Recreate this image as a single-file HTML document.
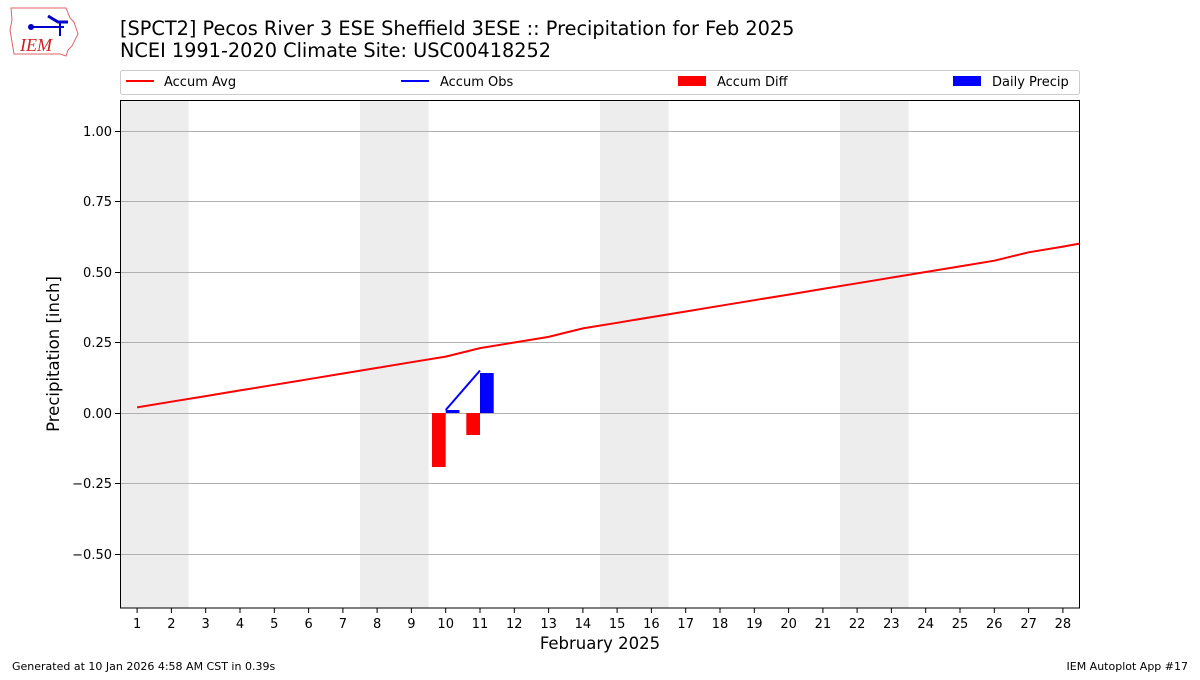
<!DOCTYPE html>
<html><head><meta charset="utf-8"><style>
body{margin:0;background:#fff;}
text{font-family:"DejaVu Sans","Liberation Sans",sans-serif;}
</style></head><body>
<svg width="1200" height="675" xmlns="http://www.w3.org/2000/svg">
<rect width="1200" height="675" fill="#fff"/>
<!-- logo -->
<g>
<path d="M11,8 L66,8 L70,18 L74,22 L78,34 L72,46 L68,50 L66,56 L60,54 L14,54 L12,42 L10,30 L12,20 Z" fill="#fff" stroke="#d66" stroke-width="1"/>
<line x1="30" y1="27" x2="64" y2="27" stroke="#00c" stroke-width="2"/>
<circle cx="31" cy="27" r="3" fill="#00c"/>
<path d="M48,16 L58,22 L68,22" stroke="#00c" stroke-width="3" fill="none"/>
<line x1="60" y1="22" x2="60" y2="36" stroke="#00c" stroke-width="2"/>
<text x="20" y="51" font-family="Liberation Serif,serif" font-style="italic" font-size="18" fill="#c22" style="font-family:'Liberation Serif',serif">IEM</text>
</g>
<text x="120" y="35" font-size="19.3">[SPCT2] Pecos River 3 ESE Sheffield 3ESE :: Precipitation for Feb 2025</text>
<text x="120" y="57" font-size="19.3">NCEI 1991-2020 Climate Site: USC00418252</text>
<!-- legend -->
<rect x="120.5" y="70.5" width="959" height="24" fill="#fff" stroke="#ccc" rx="2"/>
<line x1="126" y1="81" x2="154" y2="81" stroke="red" stroke-width="2"/>
<text x="164" y="86" font-size="13">Accum Avg</text>
<line x1="401" y1="81" x2="429" y2="81" stroke="blue" stroke-width="2"/>
<text x="440" y="86" font-size="13">Accum Obs</text>
<rect x="678" y="76" width="28" height="10" fill="red"/>
<text x="717" y="86" font-size="13">Accum Diff</text>
<rect x="953" y="76" width="28" height="10" fill="blue"/>
<text x="992" y="86" font-size="13">Daily Precip</text>
<!-- weekends -->
<g fill="#ededed">
<rect x="120" y="100" width="68.6" height="508"/>
<rect x="360" y="100" width="68.6" height="508"/>
<rect x="600" y="100" width="68.6" height="508"/>
<rect x="840" y="100" width="68.6" height="508"/>
</g>
<!-- grid -->
<g stroke="#b0b0b0" stroke-width="1">
<line x1="120" x2="1080" y1="131.5" y2="131.5"/>
<line x1="120" x2="1080" y1="201.5" y2="201.5"/>
<line x1="120" x2="1080" y1="272.5" y2="272.5"/>
<line x1="120" x2="1080" y1="342.5" y2="342.5"/>
<line x1="120" x2="1080" y1="413.5" y2="413.5"/>
<line x1="120" x2="1080" y1="483.5" y2="483.5"/>
<line x1="120" x2="1080" y1="554.5" y2="554.5"/>
</g>
<!-- bars -->
<rect x="432" y="413" width="13.7" height="54" fill="red"/>
<rect x="466.3" y="413" width="13.7" height="22" fill="red"/>
<rect x="445.7" y="410" width="13.7" height="3" fill="blue"/>
<rect x="480" y="373" width="13.7" height="40" fill="blue"/>
<polyline fill="none" stroke="red" stroke-width="2" points="137.1,407.4 171.4,401.7 205.7,396.1 240,390.4 274.3,384.8 308.6,379.2 342.9,373.5 377.1,367.9 411.4,362.2 445.7,356.6 480,348.1 514.3,342.5 548.6,336.9 582.9,328.4 617.1,322.8 651.4,317.1 685.7,311.5 720,305.8 754.3,300.2 788.6,294.6 822.9,288.9 857.1,283.3 891.4,277.6 925.7,272 960,266.4 994.3,260.7 1028.6,252.3 1062.9,246.6 1080,243.5"/>
<polyline fill="none" stroke="blue" stroke-width="2" points="445.7,410 480,370.5"/>
<rect x="120.5" y="100.5" width="959" height="507.5" fill="none" stroke="#000" stroke-width="1"/>
<!-- y ticks -->
<g font-size="13" text-anchor="end">
<g stroke="#000"><line x1="115" x2="120" y1="131.5" y2="131.5"/><line x1="115" x2="120" y1="201.5" y2="201.5"/><line x1="115" x2="120" y1="272.5" y2="272.5"/><line x1="115" x2="120" y1="342.5" y2="342.5"/><line x1="115" x2="120" y1="413.5" y2="413.5"/><line x1="115" x2="120" y1="483.5" y2="483.5"/><line x1="115" x2="120" y1="554.5" y2="554.5"/></g>
<text x="112" y="136">1.00</text><text x="112" y="206">0.75</text><text x="112" y="277">0.50</text><text x="112" y="347">0.25</text><text x="112" y="418">0.00</text><text x="112" y="488">−0.25</text><text x="112" y="559">−0.50</text>
</g>
<text transform="translate(59,354) rotate(-90)" font-size="16.5" text-anchor="middle">Precipitation [inch]</text>
<!-- x ticks -->
<g font-size="13" text-anchor="middle">
<g stroke="#000">
<line x1="137.1" x2="137.1" y1="608" y2="613"/><line x1="171.4" x2="171.4" y1="608" y2="613"/><line x1="205.7" x2="205.7" y1="608" y2="613"/><line x1="240" x2="240" y1="608" y2="613"/><line x1="274.3" x2="274.3" y1="608" y2="613"/><line x1="308.6" x2="308.6" y1="608" y2="613"/><line x1="342.9" x2="342.9" y1="608" y2="613"/><line x1="377.1" x2="377.1" y1="608" y2="613"/><line x1="411.4" x2="411.4" y1="608" y2="613"/><line x1="445.7" x2="445.7" y1="608" y2="613"/><line x1="480" x2="480" y1="608" y2="613"/><line x1="514.3" x2="514.3" y1="608" y2="613"/><line x1="548.6" x2="548.6" y1="608" y2="613"/><line x1="582.9" x2="582.9" y1="608" y2="613"/><line x1="617.1" x2="617.1" y1="608" y2="613"/><line x1="651.4" x2="651.4" y1="608" y2="613"/><line x1="685.7" x2="685.7" y1="608" y2="613"/><line x1="720" x2="720" y1="608" y2="613"/><line x1="754.3" x2="754.3" y1="608" y2="613"/><line x1="788.6" x2="788.6" y1="608" y2="613"/><line x1="822.9" x2="822.9" y1="608" y2="613"/><line x1="857.1" x2="857.1" y1="608" y2="613"/><line x1="891.4" x2="891.4" y1="608" y2="613"/><line x1="925.7" x2="925.7" y1="608" y2="613"/><line x1="960" x2="960" y1="608" y2="613"/><line x1="994.3" x2="994.3" y1="608" y2="613"/><line x1="1028.6" x2="1028.6" y1="608" y2="613"/><line x1="1062.9" x2="1062.9" y1="608" y2="613"/>
</g>
<text x="137.1" y="628">1</text><text x="171.4" y="628">2</text><text x="205.7" y="628">3</text><text x="240" y="628">4</text><text x="274.3" y="628">5</text><text x="308.6" y="628">6</text><text x="342.9" y="628">7</text><text x="377.1" y="628">8</text><text x="411.4" y="628">9</text><text x="445.7" y="628">10</text><text x="480" y="628">11</text><text x="514.3" y="628">12</text><text x="548.6" y="628">13</text><text x="582.9" y="628">14</text><text x="617.1" y="628">15</text><text x="651.4" y="628">16</text><text x="685.7" y="628">17</text><text x="720" y="628">18</text><text x="754.3" y="628">19</text><text x="788.6" y="628">20</text><text x="822.9" y="628">21</text><text x="857.1" y="628">22</text><text x="891.4" y="628">23</text><text x="925.7" y="628">24</text><text x="960" y="628">25</text><text x="994.3" y="628">26</text><text x="1028.6" y="628">27</text><text x="1062.9" y="628">28</text>
</g>
<text x="600" y="649" font-size="16.5" text-anchor="middle">February 2025</text>
<text x="12" y="670" font-size="11">Generated at 10 Jan 2026 4:58 AM CST in 0.39s</text>
<text x="1188" y="670" font-size="11" text-anchor="end">IEM Autoplot App #17</text>
</svg>
</body></html>
